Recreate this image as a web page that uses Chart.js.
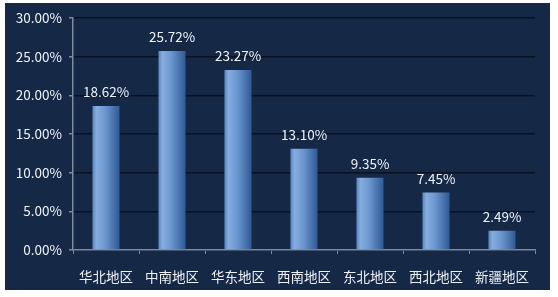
<!DOCTYPE html>
<html>
<head>
<meta charset="utf-8">
<script src="https://cdn.jsdelivr.net/npm/chart.js@4/dist/chart.umd.min.js"></script>
<style>
  html, body { margin: 0; padding: 0; background: #ffffff; }
  #wrap { width: 558px; height: 297px; position: relative; }
</style>
</head>
<body>
<div id="wrap"><canvas id="c" width="558" height="297"></canvas></div>
<script>
// Regional share of total, in percent
const regions = ['华北地区', '中南地区', '华东地区', '西南地区', '东北地区', '西北地区', '新疆地区'];
const shares = [18.62, 25.72, 23.27, 13.10, 9.35, 7.45, 2.49];
const yTicks = [0, 5, 10, 15, 20, 25, 30];

const FONT = '"Noto Sans CJK SC", "Noto Sans", sans-serif';
const TEXT = '#eef2f8';

// Dark navy panel behind the plot
const panel = {
  id: 'panel',
  beforeDraw(chart) {
    const ctx = chart.ctx;
    ctx.save();
    ctx.fillStyle = '#152846';
    ctx.fillRect(5, 3, 545, 287);
    ctx.restore();
  }
};

// Cylinder-like horizontal shading on each bar
const barShade = {
  id: 'barShade',
  beforeDatasetsDraw(chart) {
    const ctx = chart.ctx;
    chart.getDatasetMeta(0).data.forEach(el => {
      const x0 = el.x - el.width / 2, x1 = el.x + el.width / 2;
      const g = ctx.createLinearGradient(x0, 0, x1, 0);
      g.addColorStop(0, '#5a86c0');
      g.addColorStop(0.15, '#86addf');
      g.addColorStop(0.45, '#6d98d0');
      g.addColorStop(1, '#2f5a96');
      el.options.backgroundColor = g;
    });
  }
};

// Value labels above the bars
const valueLabels = {
  id: 'valueLabels',
  afterDatasetsDraw(chart) {
    const ctx = chart.ctx;
    ctx.save();
    ctx.font = '13.5px ' + FONT;
    ctx.fillStyle = TEXT;
    ctx.textAlign = 'center';
    ctx.textBaseline = 'bottom';
    chart.getDatasetMeta(0).data.forEach((el, i) => {
      ctx.fillText(shares[i].toFixed(2) + '%', el.x, el.y - 7);
    });
    ctx.restore();
  }
};

new Chart(document.getElementById('c'), {
  type: 'bar',
  data: {
    labels: regions,
    datasets: [{
      data: shares,
      // scriptable so every bar keeps its own options object
      backgroundColor: () => '#5f8cc6',
      borderWidth: 0,
      barPercentage: 0.41,
      categoryPercentage: 1
    }]
  },
  options: {
    responsive: false,
    animation: false,
    devicePixelRatio: 1,
    layout: { padding: { top: 18, right: 23, bottom: 0, left: 0 } },
    plugins: { legend: { display: false }, tooltip: { enabled: false } },
    scales: {
      x: {
        grid: {
          display: true,
          drawOnChartArea: false,
          tickColor: '#7d8aa0',
          tickLength: 4,
          offset: true
        },
        border: { color: '#7d8aa0', width: 1.5 },
        ticks: { color: TEXT, font: { family: FONT, size: 13.5 }, padding: 15 },
        afterFit(scale) { scale.height = 47; }
      },
      y: {
        min: 0,
        max: 30,
        afterBuildTicks(scale) { scale.ticks = yTicks.map(v => ({ value: v })); },
        grid: {
          color: '#0a1222',
          lineWidth: 1.5,
          tickColor: '#7d8aa0',
          tickLength: 4
        },
        border: { color: '#7d8aa0', width: 1.5 },
        ticks: {
          color: TEXT,
          font: { family: FONT, size: 13.5 },
          padding: 7,
          callback: v => v.toFixed(2) + '%'
        },
        afterFit(scale) { scale.width = 73; }
      }
    }
  },
  plugins: [panel, barShade, valueLabels]
});
</script>
</body>
</html>
